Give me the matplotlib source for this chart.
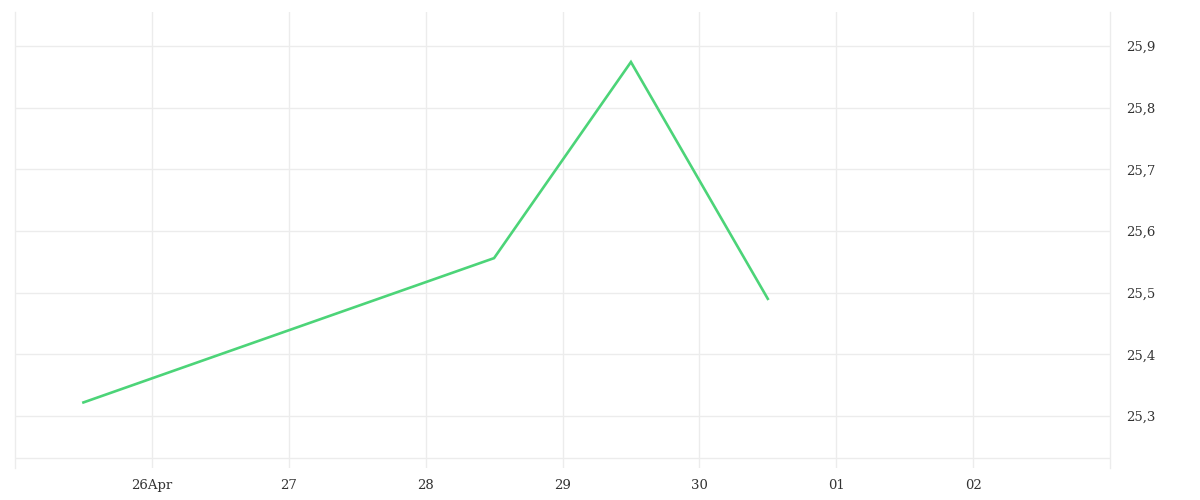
import matplotlib
matplotlib.use('Agg')
from matplotlib import pyplot as plt
import matplotlib.dates as mdates
import pandas as pd

# data
dates = pd.to_datetime(["2024-04-25 12:00", "2024-04-28 12:00",
                        "2024-04-29 12:00", "2024-04-30 12:00"])
values = [25.322, 25.556, 25.874, 25.490]

tick_dates = pd.date_range("2024-04-26", "2024-05-02", freq="D")
tick_labels = ["26Apr", "27", "28", "29", "30", "01", "02"]
y_ticks = [25.3, 25.4, 25.5, 25.6, 25.7, 25.8, 25.9]

grid_color = "#ececec"
text_color = "#333333"

fig = plt.figure(figsize=(12, 5), dpi=100)
ax = fig.add_axes([15 / 1200, 32 / 500, 1095 / 1200, 456 / 500])

ax.plot(dates, values, color="#4cd478", linewidth=1.9, solid_joinstyle="miter")

ax.set_xlim(pd.Timestamp("2024-04-25"), pd.Timestamp("2024-05-03"))
ax.set_ylim(25.2157, 25.9551)

ax.set_xticks(tick_dates)
ax.set_xticklabels(tick_labels)
ax.set_yticks(y_ticks)
ax.set_yticklabels([f"{v:.1f}".replace(".", ",") for v in y_ticks])

ax.yaxis.tick_right()
ax.grid(True, color=grid_color, linewidth=1)
ax.set_axisbelow(True)
ax.tick_params(axis="both", length=0, colors=text_color, labelsize=9.5)
ax.tick_params(axis="x", pad=8)
ax.tick_params(axis="y", pad=11.5)
for lbl in ax.get_xticklabels() + ax.get_yticklabels():
    lbl.set_fontfamily(["DejaVu Serif"])
    lbl.set_color(text_color)

for side in ["top", "bottom"]:
    ax.spines[side].set_visible(False)
for side in ["left", "right"]:
    ax.spines[side].set_color(grid_color)
    ax.spines[side].set_linewidth(1)

# bottom line sits a few pixels above the end of the vertical lines
ax.plot([0, 1], [10 / 456, 10 / 456], transform=ax.transAxes,
        color=grid_color, linewidth=1, zorder=0.5)

fig.savefig("out.png", dpi=100)
